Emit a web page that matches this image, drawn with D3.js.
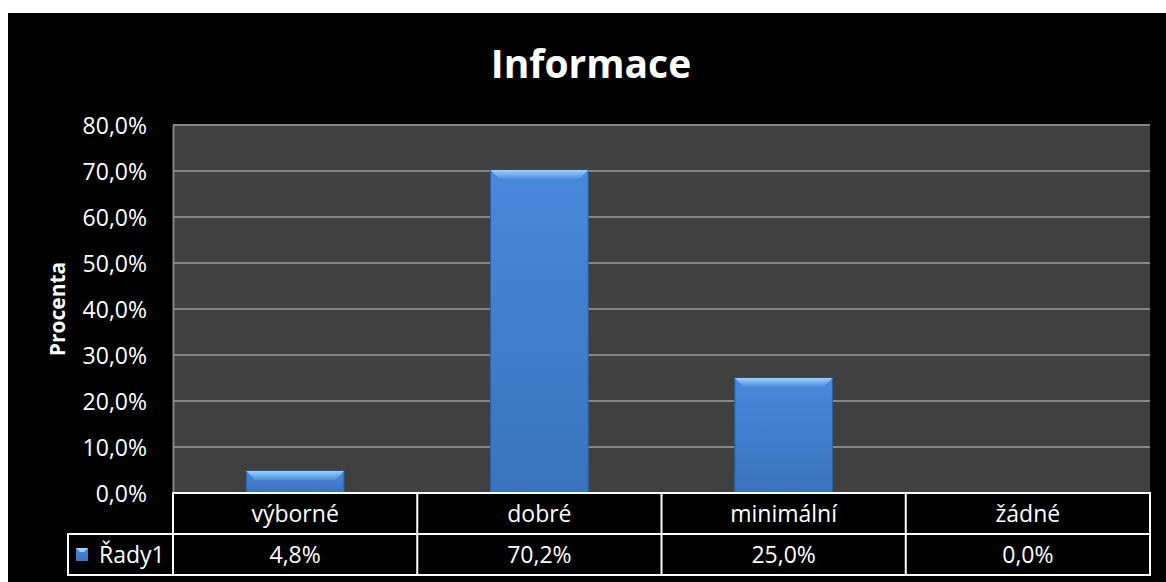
<!DOCTYPE html>
<html>
<head>
<meta charset="utf-8">
<script src="https://cdn.jsdelivr.net/npm/d3@7"></script>
<style>
  html, body { margin: 0; padding: 0; background: #fff; }
  svg { display: block; }
  text { font-family: "Open Sans", sans-serif; fill: #fff; }
</style>
</head>
<body>
<div id="chart"></div>
<script>
// data
var categories = ['výborné', 'dobré', 'minimální', 'žádné'];
var values = [4.8, 70.2, 25.0, 0.0];
var yTicks = [0, 10, 20, 30, 40, 50, 60, 70, 80];
var seriesName = 'Řady1';
var chartTitle = 'Informace';
var yTitle = 'Procenta';

var W = 1166, H = 582;
var margin = { top : 125, right : 16, bottom : 89, left : 173 };
var width = W - margin.left - margin.right;
var height = H - margin.top - margin.bottom;

var fmt = function(v) {
    return v.toFixed(1).replace('.', ',') + '%';
};

var svg = d3.select('#chart').append('svg')
	.attr('width', W).attr('height', H);

// gradients for bars
var defs = svg.append('defs');
var g1 = defs.append('linearGradient').attr('id', 'barFill')
	.attr('x1', 0).attr('y1', 0).attr('x2', 0).attr('y2', 1);
g1.append('stop').attr('offset', '0%').attr('stop-color', '#4789db');
g1.append('stop').attr('offset', '100%').attr('stop-color', '#3a73bd');
var g2 = defs.append('linearGradient').attr('id', 'bevel')
	.attr('x1', 0).attr('y1', 0).attr('x2', 0).attr('y2', 1);
g2.append('stop').attr('offset', '0%').attr('stop-color', '#9ad0fa');
g2.append('stop').attr('offset', '100%').attr('stop-color', '#4c8fdf');

// outer black area
svg.append('rect').attr('x', 8).attr('y', 13)
	.attr('width', W - 8).attr('height', H - 13).attr('fill', '#000');

var g = svg.append('g')
	.attr('transform', 'translate(' + margin.left + ',' + margin.top + ')');

var x = d3.scaleBand().domain(categories).range([ 0, width ])
	.paddingInner(0.6).paddingOuter(0.3);
var xCell = d3.scaleBand().domain(categories).range([ 0, width ]);
var y = d3.scaleLinear().domain([ 0, 80 ]).range([ height, 0 ]);

// plot area
g.append('rect').attr('width', width).attr('height', height)
	.attr('fill', '#404040');

// gridlines
g.append('g').selectAll('line').data(yTicks.slice(1)).enter()
	.append('line')
	.attr('x1', 0).attr('x2', width)
	.attr('y1', function(d) { return y(d); })
	.attr('y2', function(d) { return y(d); })
	.attr('stroke', '#868686').attr('stroke-width', 2);

// y axis
var yAxis = g.append('g').call(d3.axisLeft(y).tickValues(yTicks)
	.tickFormat(fmt).tickSize(0).tickPadding(26));
yAxis.select('.domain').attr('stroke', '#868686').attr('stroke-width', 2);
yAxis.selectAll('text').style('font-size', '23px')
	.style('font-family', '"Open Sans", sans-serif').attr('fill', '#fff')
	.attr('dy', '0.35em');

// bars
var bars = g.selectAll('.bar').data(values).enter().append('g')
	.attr('class', 'bar');
bars.append('rect')
	.attr('x', function(d, i) { return x(categories[i]); })
	.attr('y', function(d) { return y(d); })
	.attr('width', x.bandwidth())
	.attr('height', function(d) { return height - y(d); })
	.attr('fill', 'url(#barFill)')
	.attr('stroke', '#2f5f9c').attr('stroke-width', 1);
bars.filter(function(d) { return d > 0; }).append('path')
	.attr('d', function(d, i) {
	    var x0 = x(categories[i]), x1 = x0 + x.bandwidth(), t = y(d);
	    var b = Math.min(9, (height - t) / 2);
	    return 'M' + x0 + ',' + t + 'L' + x1 + ',' + t + 'L' + (x1 - b)
		    + ',' + (t + b) + 'L' + (x0 + b) + ',' + (t + b) + 'Z';
	})
	.attr('fill', 'url(#bevel)');

// data table
var rowH = 41;
var tbl = g.append('g').attr('transform', 'translate(0,' + height + ')');
tbl.append('rect').attr('x', 0).attr('y', 0).attr('width', width)
	.attr('height', rowH * 2).attr('fill', '#000');
tbl.append('rect').attr('x', -105).attr('y', rowH).attr('width', 105)
	.attr('height', rowH).attr('fill', '#000')
	.attr('stroke', '#fff').attr('stroke-width', 2);
tbl.append('rect').attr('x', 0).attr('y', 0).attr('width', width)
	.attr('height', rowH * 2).attr('fill', 'none')
	.attr('stroke', '#fff').attr('stroke-width', 2);
tbl.append('line').attr('x1', 0).attr('x2', width)
	.attr('y1', rowH).attr('y2', rowH)
	.attr('stroke', '#fff').attr('stroke-width', 2);
tbl.selectAll('.div').data(categories.slice(1)).enter().append('line')
	.attr('x1', function(d) { return xCell(d); })
	.attr('x2', function(d) { return xCell(d); })
	.attr('y1', 0).attr('y2', rowH * 2)
	.attr('stroke', '#fff').attr('stroke-width', 2);
tbl.selectAll('.cat').data(categories).enter().append('text')
	.attr('x', function(d) { return xCell(d) + xCell.bandwidth() / 2; })
	.attr('y', rowH / 2).attr('dy', '0.35em')
	.attr('text-anchor', 'middle').style('font-size', '23px')
	.text(function(d) { return d; });
tbl.selectAll('.val').data(values).enter().append('text')
	.attr('x', function(d, i) {
	    return xCell(categories[i]) + xCell.bandwidth() / 2;
	})
	.attr('y', rowH * 1.5).attr('dy', '0.35em')
	.attr('text-anchor', 'middle').style('font-size', '23px')
	.text(fmt);

// legend key
tbl.append('rect').attr('x', -97).attr('y', rowH + 14).attr('width', 12)
	.attr('height', 13).attr('fill', 'url(#barFill)');
tbl.append('path')
	.attr('d', 'M-97,' + (rowH + 14) + 'l12,0l-4,4l-4,0z')
	.attr('fill', '#9ad0fa');
tbl.append('text').attr('x', -74).attr('y', rowH * 1.5).attr('dy', '0.35em')
	.style('font-size', '23px').text(seriesName);

// titles
svg.append('text').attr('x', 591).attr('y', 64).attr('dy', '0.35em')
	.attr('text-anchor', 'middle').style('font-size', '39px')
	.style('font-weight', 'bold').text(chartTitle);
svg.append('text')
	.attr('transform', 'translate(58,' + (margin.top + y(40)) + ') rotate(-90)')
	.attr('dy', '0.35em').attr('text-anchor', 'middle')
	.style('font-size', '21px').style('font-weight', 'bold').text(yTitle);
</script>
</body>
</html>
